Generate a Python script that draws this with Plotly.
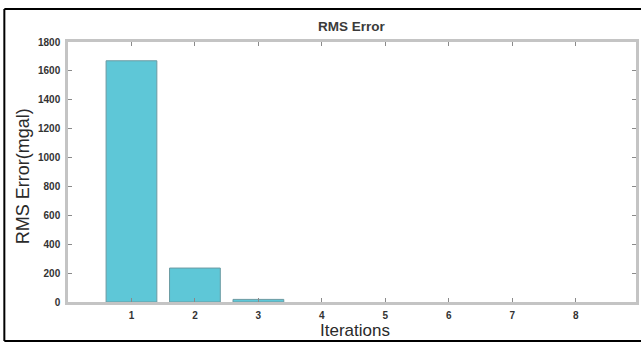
import plotly.graph_objects as go

# RMS error per inversion iteration (mGal)
iterations = [1, 2, 3, 4, 5, 6, 7, 8]
rms_error = [1670, 235, 18, 0, 0, 0, 0, 0]
y_ticks = [0, 200, 400, 600, 800, 1000, 1200, 1400, 1600, 1800]

W, H = 641, 343
L, R, T, B = 68, 2, 42, 41
pw, ph = W - L - R, H - T - B


def px(x):
    return (x - L) / pw


def py(y):
    return (H - B - y) / ph


# bars that have converged to zero get no outline
edge_widths = [1 if v > 0 else 0 for v in rms_error]

fig = go.Figure(
    go.Bar(
        x=iterations,
        y=rms_error,
        width=0.8,
        marker=dict(color="#5ec7d7", line=dict(color="#6b9aa2", width=edge_widths)),
    )
)

axis_common = dict(
    showline=True,
    linecolor="#c4c4c4",
    linewidth=2.5,
    mirror="ticks",
    ticks="inside",
    ticklen=4,
    tickwidth=1,
    tickcolor="#8a8a8a",
    showgrid=False,
    zeroline=False,
    tickfont=dict(family="Liberation Sans", size=10, color="#333333", weight="bold"),
)

fig.update_layout(
    width=W,
    height=H,
    margin=dict(l=L, r=R, t=T, b=B),
    paper_bgcolor="white",
    plot_bgcolor="white",
    showlegend=False,
    xaxis=dict(range=[0, 8.95], tickvals=iterations, ticklabelstandoff=2, **axis_common),
    yaxis=dict(range=[0, 1800], tickvals=y_ticks, ticklabelstandoff=3, **axis_common),
    annotations=[
        dict(
            text="<b>RMS Error</b>",
            xref="paper", yref="paper",
            x=0.5, y=py(27), yanchor="middle",
            showarrow=False,
            font=dict(family="Liberation Sans", size=13.5, color="#3a3a3a"),
        ),
        dict(
            text="Iterations",
            xref="paper", yref="paper",
            x=px(357), y=py(330), yanchor="middle",
            showarrow=False,
            font=dict(family="Liberation Sans", size=17, color="#2a2a2a"),
        ),
        dict(
            text="RMS Error(mgal)",
            xref="paper", yref="paper",
            x=px(23), y=py(176), xanchor="center", yanchor="middle",
            textangle=-90,
            showarrow=False,
            font=dict(family="Liberation Sans", size=18, color="#2a2a2a"),
        ),
    ],
    shapes=[
        # outer frame of the figure
        dict(type="line", xref="paper", yref="paper",
             x0=px(4), x1=px(660), y0=py(9), y1=py(9),
             line=dict(color="black", width=2)),
        dict(type="line", xref="paper", yref="paper",
             x0=px(4), x1=px(660), y0=py(341), y1=py(341),
             line=dict(color="black", width=2)),
        dict(type="line", xref="paper", yref="paper",
             x0=px(4), x1=px(4), y0=py(9), y1=py(341),
             line=dict(color="black", width=2)),
    ],
)

fig.write_html("out.html")
